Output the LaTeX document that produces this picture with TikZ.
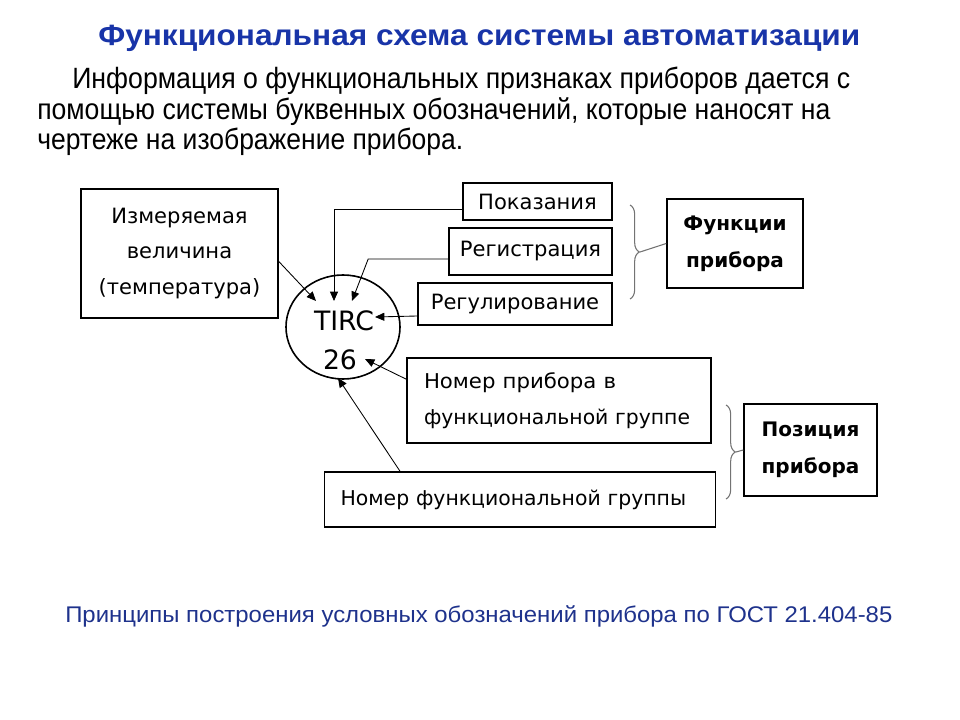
\documentclass[tikz,border=0pt]{standalone}
\usepackage{fontspec}
\usepackage{graphicx}
\setmainfont{Liberation Sans}
\newfontfamily\dvs{DejaVu Sans}
\usetikzlibrary{shapes.geometric,arrows.meta,decorations.pathreplacing}
\definecolor{titleblue}{RGB}{24,52,168}
\definecolor{notblue}{RGB}{30,50,140}
\newcommand\fw[2]{\resizebox{\dimexpr #1pt*3/4\relax}{\height}{#2}}
\tikzset{
  box/.style 2 args={draw, line width=1.2pt, minimum width=#1*0.75pt,
    minimum height=#2*0.75pt, inner sep=0pt, font=\dvs\fontsize{15.8}{26.5}\selectfont},
  boldbox/.style 2 args={box={#1}{#2}, font=\dvs\bfseries\fontsize{15}{27.5}\selectfont},
  nbox/.style 2 args={box={#1}{#2}, font=\dvs\fontsize{15.3}{27}\selectfont},
  arr/.style={-{Triangle[length=7pt,width=6pt]}, line width=0.65pt},
  bracestyle/.style={draw=black!55, line width=0.8pt, decorate,
    decoration={brace, amplitude=7pt}},
  plain/.style={anchor=base west, inner sep=0pt}
}
\begin{document}
\begin{tikzpicture}[x=0.75pt,y=-0.75pt]
\useasboundingbox[fill=white] (0,0) rectangle (960,720);
% texts
\node[plain, font=\bfseries\fontsize{22}{26}\selectfont, text=titleblue] (title) at (98,46)
  {\fw{762}{Функциональная схема системы автоматизации}};
\node[plain, font=\fontsize{22}{26}\selectfont] (p1) at (72,89)
  {\fw{778}{Информация о функциональных признаках приборов дается с}};
\node[plain, font=\fontsize{22}{26}\selectfont] (p2) at (37,120)
  {\fw{793}{помощью системы буквенных обозначений, которые наносят на}};
\node[plain, font=\fontsize{22}{26}\selectfont] (p3) at (37,150)
  {\fw{426}{чертеже на изображение прибора.}};
\node[plain, font=\fontsize{17}{20}\selectfont, text=notblue] (foot) at (65,622)
  {\fw{827}{Принципы построения условных обозначений прибора по ГОСТ 21.404-85}};
% boxes
\node[box={197}{129}, align=center] (meas) at (179.5,253.5)
  {Измеряемая\\величина\\(температура)};
\node[box={149}{37}] (pok) at (537.5,201.5) {Показания};
\node[box={163}{47}] (reg) at (530.5,251.5) {Регистрация};
\node[box={194}{42}] (rul) at (515,304) {Регулирование};
\node[boldbox={136}{89}, align=center] (func) at (735,243.5) {Функции\\прибора};
\node[nbox={304}{85}, align=left, text width=270*0.75pt] (nomp) at (559,400.5)
  {\fw{192}{Номер прибора в}\\\fw{266}{функциональной группе}};
\node[nbox={391}{55}, align=left, text width=359*0.75pt] (nomg) at (520,499.5)
  {Номер функциональной группы};
\node[boldbox={133}{92}, align=center] (pos) at (810.5,450) {Позиция\\прибора};
% instrument circle
\node[draw, ellipse, line width=1.2pt, minimum width=114*0.75pt, minimum height=104*0.75pt,
  inner sep=0pt] (dev) at (343,327) {};
\node[inner sep=0pt, anchor=base, font=\dvs\fontsize{20}{24}\selectfont] (tirc) at (344,330) {TIRC};
\node[inner sep=0pt, anchor=base, font=\dvs\fontsize{20}{24}\selectfont] (num) at (340,369) {26};
% arrow tips
\coordinate (tM) at (316,301);
\coordinate (tP) at (334,301);
\coordinate (tR) at (352,301);
\coordinate (tC) at (375,317);
\coordinate (tN) at (365,359);
\coordinate (tG) at (338,378);
\draw[arr] ([yshift=-6pt]meas.east) -- (tM);
\draw[arr] ([yshift=-5.6pt]pok.west) -| (tP);
\draw[arr] ([yshift=-5.6pt]reg.west) -- ++(-80,0) -- (tR);
\draw[arr] ([yshift=-9pt]rul.west) -- (tC);
\draw[arr] ([yshift=16pt]nomp.west) -- (tN);
\draw[arr] ([xshift=-90pt]nomg.north) -- (tG);
% braces
\coordinate (b1a) at (630,205);
\coordinate (b1b) at (630,299);
\coordinate (b1t) at (640,252);
\draw[bracestyle] (b1a) -- (b1b);
\draw[draw=black!55, line width=0.8pt] (b1t) -- (func.west);
\coordinate (b2a) at (726,405);
\coordinate (b2b) at (726,499);
\coordinate (b2t) at (736,452);
\draw[bracestyle] (b2a) -- (b2b);
\draw[draw=black!55, line width=0.8pt] (b2t) -- (pos.west);
\end{tikzpicture}
\end{document}
